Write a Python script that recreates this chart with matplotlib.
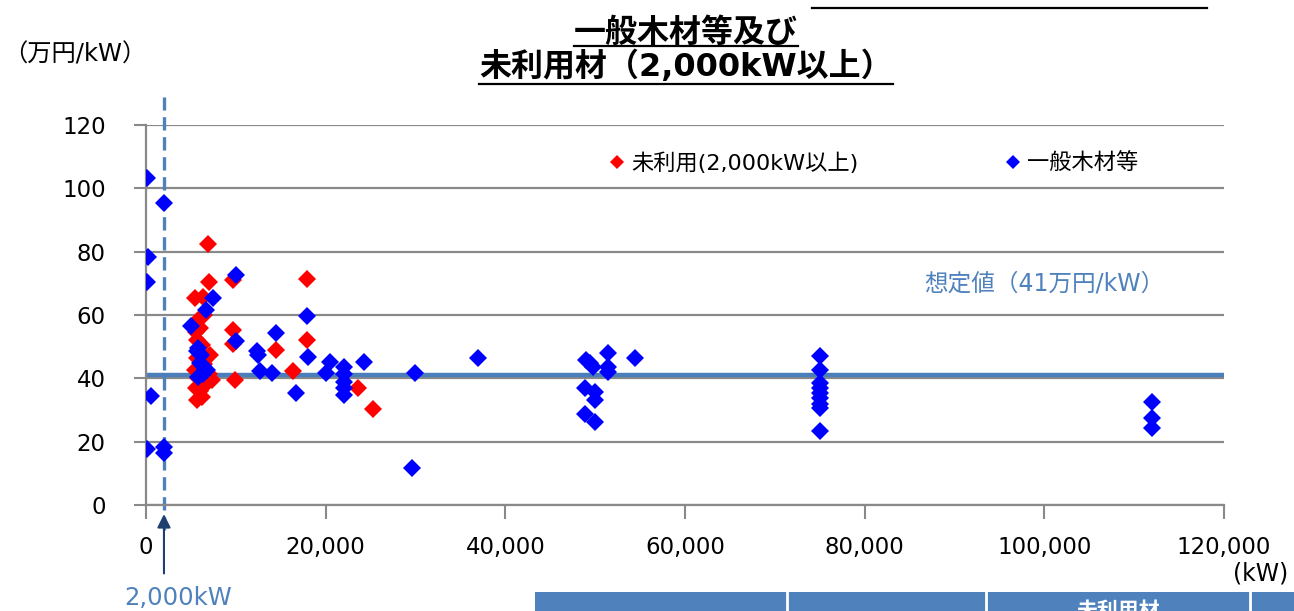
import matplotlib
matplotlib.use("Agg")
import matplotlib.pyplot as plt
from matplotlib.lines import Line2D
from matplotlib.patches import Rectangle

plt.rcParams['font.family'] = ['DejaVu Sans', 'Noto Sans CJK JP']

# 未利用材 (2,000kW以上): capacity (kW) vs capital cost (万円/kW)
red_kw = [6900, 7000, 5500, 6300, 6500, 5800, 6000, 5600, 5700, 6200,
          5700, 7100, 6500, 5400, 7000, 7300, 5800, 6600, 5600, 6000,
          6200, 5700, 9700, 9700, 9700, 9900, 14500, 16400, 17900, 17900,
          23600, 25300]
red_cost = [82.5, 70.5, 65.5, 65.8, 60, 58.5, 56, 54.5, 52, 50.5,
            46.5, 47.5, 44.5, 42.5, 41.5, 39.5, 40, 38, 37, 36,
            34, 33.2, 71, 55.3, 50.8, 39.5, 49, 42.3, 71.4, 52.1,
            37, 30.3]

# 一般木材等
blue_kw = [100, 2000, 200, 100, 600, 100, 2000, 2000,
           5000, 7450, 6700, 5800, 6100, 6000, 6400, 6800, 5800, 6300, 5700, 6600,
           10000, 10000, 12400, 12500, 12700, 14000, 14500, 16700, 17900, 18000,
           20000, 20500, 22000, 22000, 22000, 22000, 22000, 24300, 29600, 29900, 37000,
           49000, 49400, 49800, 51400, 51400, 51400, 54400, 48900, 50000, 50000, 48900, 50000,
           75000, 75000, 75000, 75000, 75000, 75000, 75000, 75000, 75000,
           112000, 112000, 112000]
blue_cost = [103.3, 95.3, 78.3, 70.4, 34.4, 17.7, 18.3, 16.5,
             56.5, 65.5, 61.5, 49.6, 47.4, 45, 44, 42.6, 40.4, 41.5, 48.5, 43,
             72.6, 51.8, 48.6, 47.4, 42.3, 41.7, 54.3, 35.4, 59.7, 46.7,
             41.7, 45.2, 43.6, 41.3, 39, 37, 34.6, 45.2, 11.7, 41.7, 46.4,
             45.8, 44.8, 43.5, 48, 43.6, 42, 46.4, 37, 35.7, 33.2, 28.7, 26.2,
             47, 42.6, 38.5, 37, 35.4, 33.8, 32, 30.6, 23.4,
             32.5, 27.5, 24.2]

assumed_cost = 41      # 想定値
threshold_kw = 2000

x_ticks = [0, 20000, 40000, 60000, 80000, 100000, 120000]
y_ticks = [0, 20, 40, 60, 80, 100, 120]

steel = '#4F81BD'
grid_gray = '#898989'

W, H = 1294, 611
fig = plt.figure(figsize=(W / 100, H / 100), dpi=100)
ax = fig.add_axes([146 / W, 1 - 505 / H, (1224 - 146) / W, (505 - 125) / H])

ax.set_xlim(0, 120000)
ax.set_ylim(0, 120)
ax.set_xticks(x_ticks)
ax.set_xticklabels(['{:,}'.format(v) for v in x_ticks])
ax.set_yticks(y_ticks)
ax.tick_params(axis='y', length=9, width=1.5, color=grid_gray, pad=20, labelsize=16.5)
ax.tick_params(axis='x', length=10, width=1.5, color=grid_gray, pad=12, labelsize=16.5)
ax.yaxis.grid(True, color=grid_gray, lw=1.6)
ax.set_axisbelow(True)
for s in ['top', 'right']:
    ax.spines[s].set_visible(False)
for s in ['left', 'bottom']:
    ax.spines[s].set_color(grid_gray)
    ax.spines[s].set_linewidth(1.6)

# assumed value line
ax.axhline(assumed_cost, color='#4A7EBB', lw=3.2, zorder=2)
ax.text(100000, 70, '想定値（{}万円/kW）'.format(assumed_cost), color=steel,
        fontsize=17, ha='center', va='center')

# 2,000kW boundary
ax.plot([threshold_kw, threshold_kw], [-8, 129], color=steel, lw=2.4,
        dashes=(4, 2), clip_on=False, zorder=2)
ax.annotate('', xy=(threshold_kw, -2), xytext=(threshold_kw, -22.5),
            arrowprops=dict(arrowstyle='-|>', color='#1F3F6E', lw=1.5,
                            mutation_scale=20),
            annotation_clip=False)
fig.text(178 / W, 1 - 598 / H, '{:,}kW'.format(threshold_kw), color=steel,
         fontsize=17.5, ha='center', va='center')

ax.plot(red_kw, red_cost, 'D', color='#FF0000', ms=9.5, mew=0,
        label='未利用(2,000kW以上)', zorder=3)
ax.plot(blue_kw, blue_cost, 'D', color='#0000FF', ms=9.5, mew=0,
        label='一般木材等', zorder=4)

ax.legend(loc='center left', bbox_to_anchor=(600 / W, 1 - 163 / H),
          bbox_transform=fig.transFigure, ncol=2, frameon=False,
          fontsize=16, handlelength=0.5, handletextpad=0.4,
          columnspacing=6.7, borderpad=0, markerscale=0.75)

# axis units
fig.text(75 / W, 1 - 55 / H, '（万円/kW）', fontsize=17.5, ha='center', va='center')
fig.text(1261 / W, 1 - 573 / H, '(kW)', fontsize=17, ha='center', va='center')

# title with underlines
t1 = fig.text(686 / W, 1 - 33 / H, '一般木材等及び', fontsize=23,
              fontweight='bold', ha='center', va='center')
t2 = fig.text(686 / W, 1 - 67 / H, '未利用材（2,000kW以上）', fontsize=23,
              fontweight='bold', ha='center', va='center')
fig.canvas.draw()
r = fig.canvas.get_renderer()
for t, uy in [(t1, 46), (t2, 84)]:
    bb = t.get_window_extent(r)
    fig.add_artist(Line2D([bb.x0 / W, bb.x1 / W], [1 - uy / H, 1 - uy / H],
                          transform=fig.transFigure, color='black', lw=1.6))
fig.add_artist(Line2D([812 / W, 1207 / W], [1 - 8 / H, 1 - 8 / H],
                      transform=fig.transFigure, color='black', lw=1.6))

# table header strip at the bottom
fig.add_artist(Rectangle((535 / W, 0), (W - 535) / W, 19 / H,
                         transform=fig.transFigure, color=steel, lw=0))
for sx in [787, 986, 1250]:
    fig.add_artist(Line2D([sx / W, sx / W], [0, 19 / H], transform=fig.transFigure,
                          color='white', lw=2))
fig.text(1118 / W, 1 - 601 / H, '未利用材', color='white', fontsize=15,
         fontweight='bold', ha='center', va='top')

fig.savefig('out.png', dpi=100)
